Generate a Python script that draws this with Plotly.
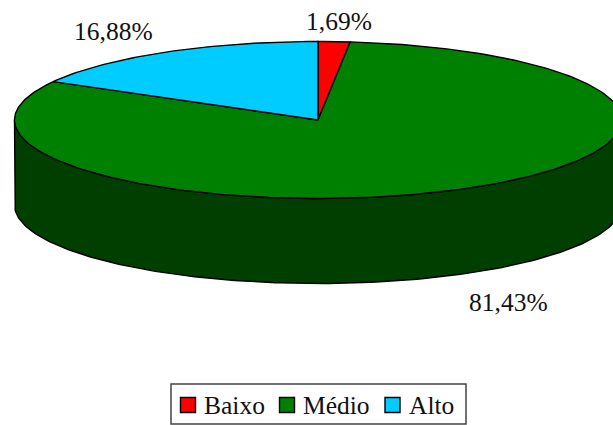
import numpy as np
import plotly.graph_objects as go

categories = ["Baixo", "Médio", "Alto"]
values = [1.69, 81.43, 16.88]
colors = ["#FF0000", "#008000", "#00CCFF"]
wall_color = "#003F00"

W, H = 613, 425
cx, cy, rx, ry, depth = 318.0, 120.0, 303.5, 78.5, 85.0
FONT = dict(family="Liberation Serif", size=25.5, color="#111111")


def ell(t):
    return cx + rx * np.sin(t), cy - ry * np.cos(t)


fig = go.Figure()

# side wall: visible front half of the cylinder
t = np.radians(np.linspace(90, 270, 181))
xa, ya = ell(t)
fig.add_trace(go.Scatter(
    x=np.r_[xa, xa[::-1], xa[0]], y=np.r_[ya, ya[::-1] + depth, ya[0]],
    mode="lines", fill="toself", fillcolor=wall_color,
    line=dict(color="black", width=1.4), showlegend=False, hoverinfo="skip"))

# top slices, clockwise from 12 o'clock, sizes taken from the values
ang = 0.0
total = sum(values)
for name, v, c in zip(categories, values, colors):
    sweep = v / total * 2 * np.pi
    t = np.linspace(ang, ang + sweep, max(int(np.degrees(sweep)), 2) + 1)
    xs, ys = ell(t)
    fig.add_trace(go.Scatter(
        x=np.r_[cx, xs, cx], y=np.r_[cy, ys, cy],
        mode="lines", fill="toself", fillcolor=c,
        line=dict(color="black", width=1.4), showlegend=False, name=name))
    ang += sweep

# data labels
label_xy = [(339, 21), (508, 302), (113, 31)]
for v, (lx, ly) in zip(values, label_xy):
    fig.add_annotation(x=lx, y=ly, xref="x", yref="y", showarrow=False,
                       text=f"{v:.2f}".replace(".", ",") + "%", font=FONT)

# legend: frame, swatches, labels
swatch_x = [188, 287, 392.5]
text_x = [201.5, 300.5, 406.5]
legend_y = 405
fig.add_shape(type="rect", xref="x", yref="y", x0=171, x1=466, y0=384, y1=424, layer="below",
              line=dict(color="#444444", width=1.5), fillcolor="white")
for name, c, sx, tx in zip(categories, colors, swatch_x, text_x):
    fig.add_trace(go.Scatter(
        x=[sx], y=[legend_y], mode="markers", name=name, showlegend=False,
        marker=dict(symbol="square", size=15, color=c, line=dict(color="black", width=1.4))))
    fig.add_annotation(x=tx, y=legend_y, xref="x", yref="y", showarrow=False,
                       xanchor="left", text=name, font=FONT)

fig.update_layout(
    width=W, height=H, margin=dict(l=0, r=0, t=0, b=0),
    paper_bgcolor="white", plot_bgcolor="white", showlegend=False,
    xaxis=dict(range=[0, W], visible=False, fixedrange=True),
    yaxis=dict(range=[H, 0], visible=False, fixedrange=True),
)
fig.write_html("out.html", config=dict(displayModeBar=False),
               post_script="document.body.style.margin='0';document.documentElement.style.overflow='hidden';")
